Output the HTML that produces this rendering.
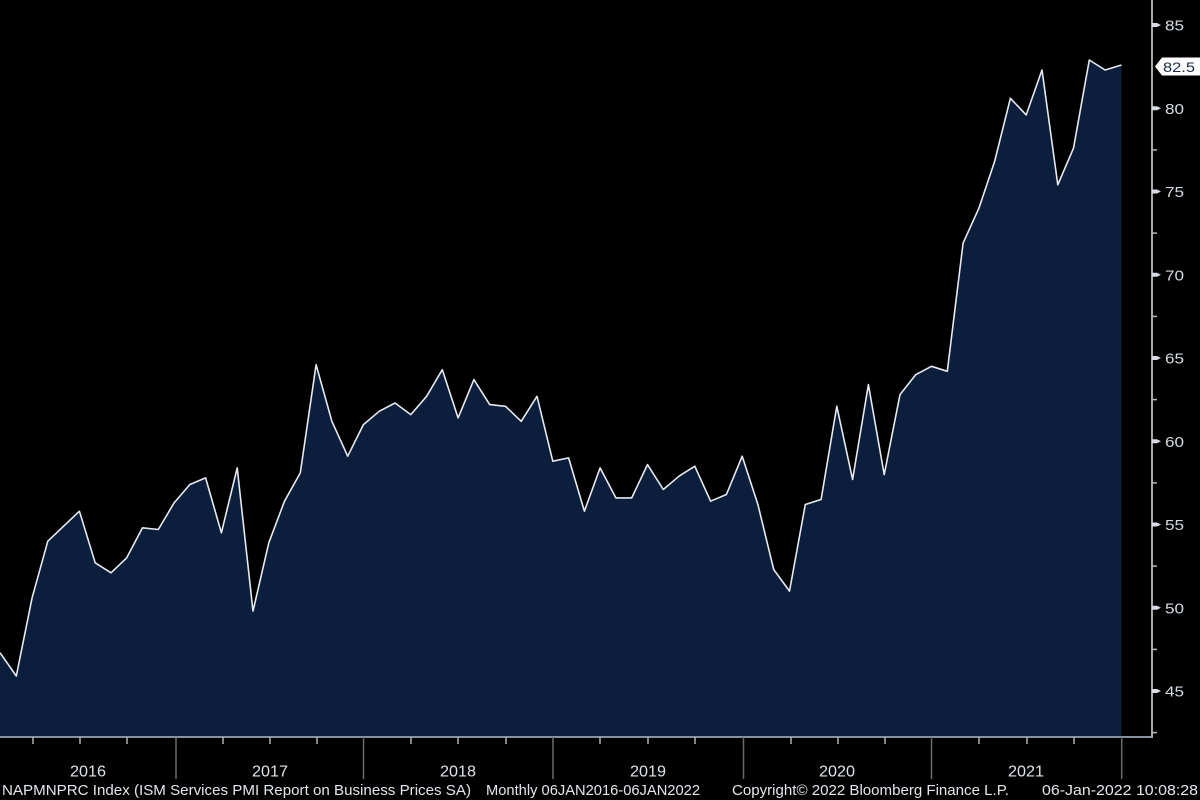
<!DOCTYPE html>
<html>
<head>
<meta charset="utf-8">
<style>
html,body{margin:0;padding:0;background:#000;}
body{width:1200px;height:800px;overflow:hidden;}
svg{display:block;}
text{font-family:"Liberation Sans",sans-serif;}
</style>
</head>
<body>
<svg width="1200" height="800" viewBox="0 0 1200 800" xmlns="http://www.w3.org/2000/svg">
<rect x="0" y="0" width="1200" height="800" fill="#000"/>

<!-- area fill -->
<polygon fill="#0b1f3d" points="0,652.7 16.3,676.0 32.1,597.8 47.8,541.2 63.6,526.2 79.4,511.2 95.2,562.8 111.0,572.8 126.7,557.8 142.5,527.8 158.3,529.5 174.1,502.9 189.9,484.5 205.6,477.9 221.4,532.8 237.2,467.9 253.0,611.1 268.8,542.8 284.5,501.2 300.3,472.9 316.1,364.7 331.9,421.3 347.7,456.2 363.4,424.6 379.2,411.3 395.0,403.0 410.8,414.6 426.6,396.3 442.3,369.7 458.1,417.9 473.9,379.6 489.7,404.6 505.5,406.3 521.2,421.3 537.0,396.3 552.8,461.2 568.6,457.9 584.4,511.2 600.1,467.9 615.9,497.9 631.7,497.9 647.5,464.6 663.3,489.5 679.0,476.2 694.8,466.2 710.6,501.2 726.4,494.5 742.2,456.2 757.9,504.5 773.7,569.5 789.5,591.1 805.3,504.5 821.1,499.5 836.8,406.3 852.6,479.5 868.4,384.6 884.2,474.6 900.0,394.6 915.7,374.7 931.5,366.3 947.3,371.3 963.1,243.1 978.9,208.2 994.6,161.5 1010.4,98.3 1026.2,114.9 1042.0,70.0 1057.8,184.8 1073.5,148.2 1089.3,60.0 1105.1,70.0 1121.5,65.0 1121.5,737 0,737"/>

<!-- line -->
<polyline fill="none" stroke="#e6e9ee" stroke-width="1.6" stroke-linejoin="round" points="0,652.7 16.3,676.0 32.1,597.8 47.8,541.2 63.6,526.2 79.4,511.2 95.2,562.8 111.0,572.8 126.7,557.8 142.5,527.8 158.3,529.5 174.1,502.9 189.9,484.5 205.6,477.9 221.4,532.8 237.2,467.9 253.0,611.1 268.8,542.8 284.5,501.2 300.3,472.9 316.1,364.7 331.9,421.3 347.7,456.2 363.4,424.6 379.2,411.3 395.0,403.0 410.8,414.6 426.6,396.3 442.3,369.7 458.1,417.9 473.9,379.6 489.7,404.6 505.5,406.3 521.2,421.3 537.0,396.3 552.8,461.2 568.6,457.9 584.4,511.2 600.1,467.9 615.9,497.9 631.7,497.9 647.5,464.6 663.3,489.5 679.0,476.2 694.8,466.2 710.6,501.2 726.4,494.5 742.2,456.2 757.9,504.5 773.7,569.5 789.5,591.1 805.3,504.5 821.1,499.5 836.8,406.3 852.6,479.5 868.4,384.6 884.2,474.6 900.0,394.6 915.7,374.7 931.5,366.3 947.3,371.3 963.1,243.1 978.9,208.2 994.6,161.5 1010.4,98.3 1026.2,114.9 1042.0,70.0 1057.8,184.8 1073.5,148.2 1089.3,60.0 1105.1,70.0 1121.5,65.0"/>

<!-- bottom axis -->
<line x1="0" y1="737" x2="1153" y2="737" stroke="#8593a5" stroke-width="2"/>
<!-- year dividers -->
<g stroke="#6a6a6a" stroke-width="1.5">
<line x1="176" y1="737" x2="176" y2="779"/>
<line x1="363.5" y1="737" x2="363.5" y2="779"/>
<line x1="553" y1="737" x2="553" y2="779"/>
<line x1="743.5" y1="737" x2="743.5" y2="779"/>
<line x1="931.5" y1="737" x2="931.5" y2="779"/>
<line x1="1121.7" y1="737" x2="1121.7" y2="779"/>
</g>
<!-- quarter ticks -->
<g stroke="#b0b0b0" stroke-width="1.5">
<line x1="33" y1="737" x2="33" y2="744"/><line x1="80" y1="737" x2="80" y2="744"/><line x1="127" y1="737" x2="127" y2="744"/>
<line x1="223" y1="737" x2="223" y2="744"/><line x1="270" y1="737" x2="270" y2="744"/><line x1="317" y1="737" x2="317" y2="744"/>
<line x1="411" y1="737" x2="411" y2="744"/><line x1="458" y1="737" x2="458" y2="744"/><line x1="506" y1="737" x2="506" y2="744"/>
<line x1="600" y1="737" x2="600" y2="744"/><line x1="648" y1="737" x2="648" y2="744"/><line x1="695" y1="737" x2="695" y2="744"/>
<line x1="791" y1="737" x2="791" y2="744"/><line x1="838" y1="737" x2="838" y2="744"/><line x1="885" y1="737" x2="885" y2="744"/>
<line x1="979" y1="737" x2="979" y2="744"/><line x1="1027" y1="737" x2="1027" y2="744"/><line x1="1074" y1="737" x2="1074" y2="744"/>
</g>

<!-- right axis -->
<line x1="1152" y1="0" x2="1152" y2="738" stroke="#a8a8a8" stroke-width="2"/>
<g fill="#d8dce2">
<polygon points="1152,23 1157,23 1161,25 1157,27 1152,27"/>
<polygon points="1152,106.3 1157,106.3 1161,108.3 1157,110.3 1152,110.3"/>
<polygon points="1152,189.5 1157,189.5 1161,191.5 1157,193.5 1152,193.5"/>
<polygon points="1152,272.8 1157,272.8 1161,274.8 1157,276.8 1152,276.8"/>
<polygon points="1152,356 1157,356 1161,358 1157,360 1152,360"/>
<polygon points="1152,439.3 1157,439.3 1161,441.3 1157,443.3 1152,443.3"/>
<polygon points="1152,522.5 1157,522.5 1161,524.5 1157,526.5 1152,526.5"/>
<polygon points="1152,605.8 1157,605.8 1161,607.8 1157,609.8 1152,609.8"/>
<polygon points="1152,689 1157,689 1161,691 1157,693 1152,693"/>
</g>
<g stroke="#b8b8b8" stroke-width="1.5">
<line x1="1152" y1="149.9" x2="1157" y2="149.9"/>
<line x1="1152" y1="233.1" x2="1157" y2="233.1"/>
<line x1="1152" y1="316.4" x2="1157" y2="316.4"/>
<line x1="1152" y1="399.6" x2="1157" y2="399.6"/>
<line x1="1152" y1="482.9" x2="1157" y2="482.9"/>
<line x1="1152" y1="566.1" x2="1157" y2="566.1"/>
<line x1="1152" y1="649.4" x2="1157" y2="649.4"/>
<line x1="1152" y1="732.6" x2="1157" y2="732.6"/>
</g>
<g fill="#d4dae2" font-size="15">
<text x="1165" y="30.5" textLength="19" lengthAdjust="spacingAndGlyphs">85</text>
<text x="1165" y="113.8" textLength="19" lengthAdjust="spacingAndGlyphs">80</text>
<text x="1165" y="197" textLength="19" lengthAdjust="spacingAndGlyphs">75</text>
<text x="1165" y="280.3" textLength="19" lengthAdjust="spacingAndGlyphs">70</text>
<text x="1165" y="363.5" textLength="19" lengthAdjust="spacingAndGlyphs">65</text>
<text x="1165" y="446.8" textLength="19" lengthAdjust="spacingAndGlyphs">60</text>
<text x="1165" y="530" textLength="19" lengthAdjust="spacingAndGlyphs">55</text>
<text x="1165" y="613.3" textLength="19" lengthAdjust="spacingAndGlyphs">50</text>
<text x="1165" y="696.5" textLength="19" lengthAdjust="spacingAndGlyphs">45</text>
</g>

<!-- last value label -->
<polygon points="1155,66.5 1162,57.5 1200,57.5 1200,75.5 1162,75.5" fill="#ffffff"/>
<text x="1163" y="72" font-size="14" fill="#1a2840" textLength="32" lengthAdjust="spacingAndGlyphs">82.5</text>

<!-- year labels -->
<g fill="#dfe4ea" font-size="16" text-anchor="middle">
<text x="88" y="776.5" textLength="36" lengthAdjust="spacingAndGlyphs">2016</text>
<text x="270" y="776.5" textLength="36" lengthAdjust="spacingAndGlyphs">2017</text>
<text x="458" y="776.5" textLength="36" lengthAdjust="spacingAndGlyphs">2018</text>
<text x="648" y="776.5" textLength="36" lengthAdjust="spacingAndGlyphs">2019</text>
<text x="837" y="776.5" textLength="36" lengthAdjust="spacingAndGlyphs">2020</text>
<text x="1026" y="776.5" textLength="36" lengthAdjust="spacingAndGlyphs">2021</text>
</g>

<!-- footer -->
<g fill="#e2e6ec" font-size="15">
<text x="2" y="795" textLength="469" lengthAdjust="spacingAndGlyphs">NAPMNPRC Index (ISM Services PMI Report on Business Prices SA)</text>
<text x="486" y="795" textLength="214" lengthAdjust="spacingAndGlyphs">Monthly 06JAN2016-06JAN2022</text>
<text x="732" y="795" textLength="277" lengthAdjust="spacingAndGlyphs">Copyright© 2022 Bloomberg Finance L.P.</text>
<text x="1042" y="795" textLength="156" lengthAdjust="spacingAndGlyphs">06-Jan-2022 10:08:28</text>
</g>
</svg>
</body>
</html>
